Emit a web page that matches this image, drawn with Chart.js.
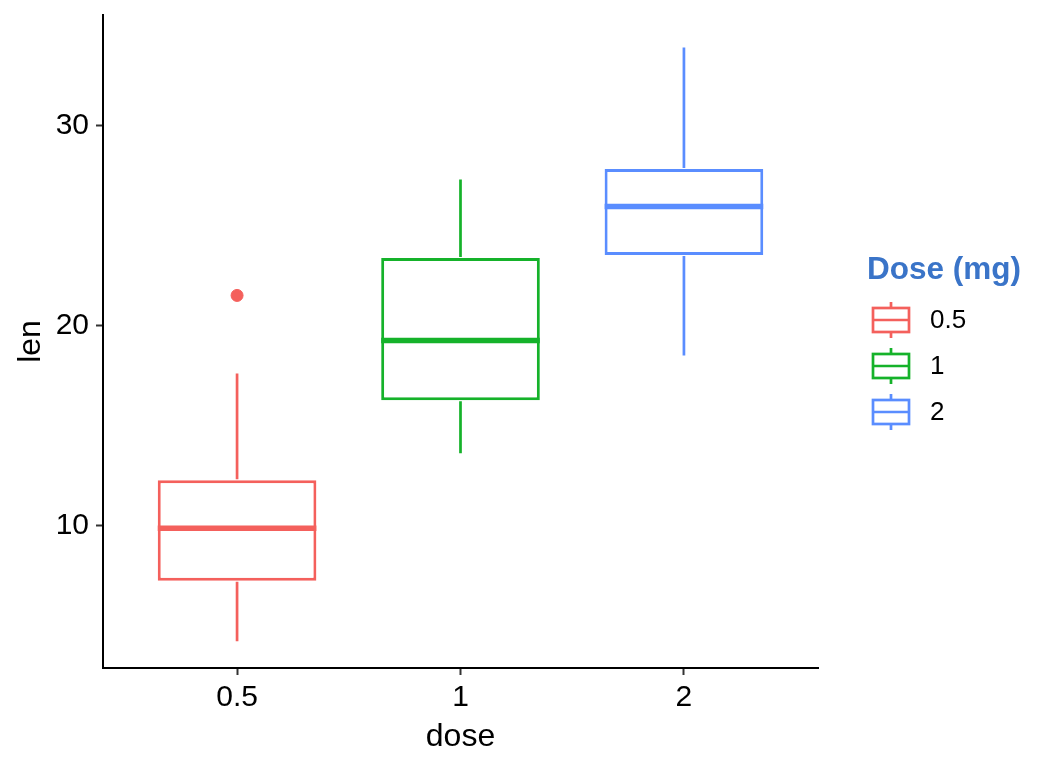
<!DOCTYPE html>
<html>
<head>
<meta charset="utf-8">
<script src="https://cdn.jsdelivr.net/npm/chart.js@4"></script>
<style>
html,body{margin:0;padding:0;background:#fff;}
#wrap{width:1056px;height:768px;}
</style>
</head>
<body>
<div id="wrap"><canvas id="c" width="1056" height="768"></canvas></div>
<script>
// ToothGrowth len by dose
const doseLabels = ['0.5', '1', '2'];
const doseX = [1, 2, 3];
const q1 = [7.225, 16.25, 23.525];
const median = [9.85, 19.25, 25.95];
const q3 = [12.25, 23.375, 27.825];
const whiskerLow = [4.2, 13.6, 18.5];
const whiskerHigh = [17.6, 27.3, 33.9];
const outliers = [[21.5], [], []];
const yTicks = [10, 20, 30];
const colors = ['#F4605C', '#15B22A', '#5A8DFF'];

const boxData = doseX.map((x, i) => ({x: x, y: [q1[i], q3[i]]}));
const outlierData = [];
const outlierColors = [];
outliers.forEach((arr, i) => arr.forEach(v => { outlierData.push({x: doseX[i], y: v}); outlierColors.push(colors[i]); }));

const FONT = "'Liberation Sans', Arial, sans-serif";

const boxPlugin = {
  id: 'boxExtras',
  afterDatasetsDraw(chart) {
    const ctx = chart.ctx;
    const xs = chart.scales.x, ys = chart.scales.y;
    const meta = chart.getDatasetMeta(0);
    ctx.save();
    doseX.forEach((x, i) => {
      const px = xs.getPixelForValue(x);
      const bar = meta.data[i];
      const half = bar.width / 2;
      ctx.strokeStyle = colors[i];
      ctx.lineCap = 'butt';
      // whiskers
      ctx.lineWidth = 2.7;
      ctx.beginPath();
      ctx.moveTo(px, ys.getPixelForValue(q3[i]) - 1);
      ctx.lineTo(px, ys.getPixelForValue(whiskerHigh[i]));
      ctx.moveTo(px, ys.getPixelForValue(q1[i]) + 1);
      ctx.lineTo(px, ys.getPixelForValue(whiskerLow[i]));
      ctx.stroke();
      // median
      ctx.lineWidth = 5.5;
      ctx.beginPath();
      const my = ys.getPixelForValue(median[i]);
      ctx.moveTo(px - half, my);
      ctx.lineTo(px + half, my);
      ctx.stroke();
    });
    ctx.restore();
  },
  afterDraw(chart) {
    const ctx = chart.ctx;
    ctx.save();
    ctx.fillStyle = '#3A74C8';
    ctx.font = 'bold 31.5px ' + FONT;
    ctx.textBaseline = 'alphabetic';
    ctx.textAlign = 'left';
    ctx.fillText('Dose (mg)', 867, 279);
    const ys0 = [320, 366, 412];
    doseLabels.forEach((lab, i) => {
      const cy = ys0[i];
      const x0 = 873, x1 = 909, cx = (x0 + x1) / 2;
      ctx.strokeStyle = colors[i];
      ctx.lineWidth = 2.7;
      ctx.beginPath();
      ctx.moveTo(cx, cy - 18); ctx.lineTo(cx, cy - 12);
      ctx.moveTo(cx, cy + 12); ctx.lineTo(cx, cy + 18);
      ctx.stroke();
      ctx.strokeRect(x0, cy - 12, x1 - x0, 24);
      ctx.beginPath();
      ctx.moveTo(x0, cy); ctx.lineTo(x1, cy);
      ctx.stroke();
      ctx.fillStyle = '#000';
      ctx.font = '26px ' + FONT;
      ctx.textBaseline = 'middle';
      ctx.fillText(lab, 930, cy + 1);
    });
    ctx.restore();
  }
};

new Chart(document.getElementById('c'), {
  type: 'bar',
  data: {
    datasets: [
      {
        type: 'bar',
        data: boxData,
        backgroundColor: '#ffffff',
        borderColor: colors,
        borderWidth: 3,
        borderSkipped: false,
        barPercentage: 0.71,
        categoryPercentage: 1.0,
        grouped: false,
        order: 2
      },
      {
        type: 'scatter',
        data: outlierData,
        backgroundColor: outlierColors,
        borderColor: outlierColors,
        pointRadius: 6,
        pointHoverRadius: 6,
        order: 1
      }
    ]
  },
  options: {
    responsive: false,
    animation: false,
    devicePixelRatio: 1,
    events: [],
    layout: {padding: {top: 15, right: 238, left: 0, bottom: 0}},
    plugins: {legend: {display: false}, tooltip: {enabled: false}},
    scales: {
      x: {
        type: 'linear',
        min: 0.4,
        max: 3.6,
        offset: false,
        afterBuildTicks(scale) { scale.ticks = doseX.map(v => ({value: v})); },
        afterFit(scale) { scale.height = 100; scale.paddingLeft = 0; scale.paddingRight = 0; },
        ticks: {
          callback: (v) => doseLabels[doseX.indexOf(v)],
          font: {size: 30, family: FONT},
          color: '#000',
          padding: 5,
          maxRotation: 0,
          autoSkip: false
        },
        grid: {offset: false, drawOnChartArea: false, drawTicks: true, tickLength: 7, tickColor: '#333', tickWidth: 2},
        border: {display: true, color: '#000', width: 2},
        title: {display: true, text: 'dose', font: {size: 32, family: FONT}, color: '#000', padding: {top: 0, bottom: 12}}
      },
      y: {
        type: 'linear',
        min: 2.86,
        max: 35.53,
        afterBuildTicks(scale) { scale.ticks = yTicks.map(v => ({value: v})); },
        afterFit(scale) { scale.width = 103; scale.paddingTop = 0; scale.paddingBottom = 0; },
        ticks: {
          font: {size: 30, family: FONT},
          color: '#000',
          padding: 7
        },
        grid: {drawOnChartArea: false, drawTicks: true, tickLength: 7, tickColor: '#333', tickWidth: 2},
        border: {display: true, color: '#000', width: 2},
        title: {display: true, text: 'len', font: {size: 32, family: FONT}, color: '#000', padding: {top: 12, bottom: 0}}
      }
    }
  },
  plugins: [boxPlugin]
});
</script>
</body>
</html>
